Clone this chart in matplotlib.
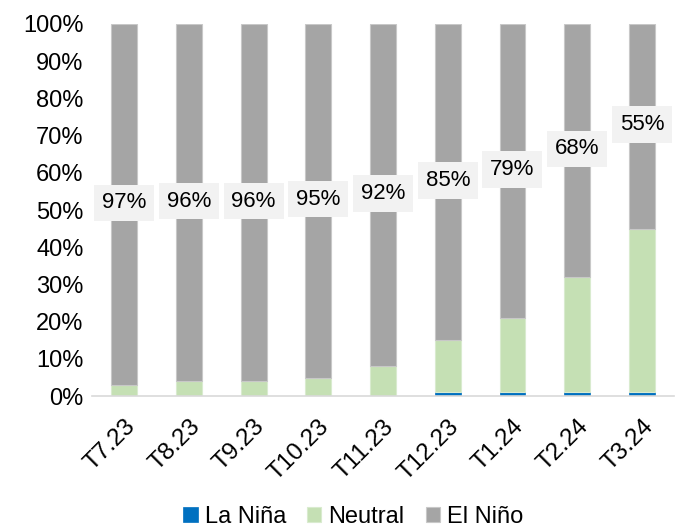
import matplotlib.pyplot as plt
import numpy as np

plt.rcParams['font.family'] = ['Liberation Sans', 'DejaVu Sans']

periods = ['T7.23', 'T8.23', 'T9.23', 'T10.23', 'T11.23', 'T12.23', 'T1.24', 'T2.24', 'T3.24']
la_nina = [0, 0, 0, 0, 0, 1, 1, 1, 1]
neutral = [3, 4, 4, 5, 8, 14, 20, 31, 44]
el_nino = [97, 96, 96, 95, 92, 85, 79, 68, 55]

fig = plt.figure(figsize=(6.81, 5.31), dpi=100)
ax = fig.add_axes([0.135, 0.254, 0.855, 0.701])

x = np.arange(len(periods))
w = 0.4
la = np.array(la_nina)
ne = np.array(neutral)
el = np.array(el_nino)

ax.bar(x, la, w, color='#0070C0', label='La Niña', edgecolor='#0070C0', linewidth=0.5)
ax.bar(x, ne, w, bottom=la, color='#C5E0B4', label='Neutral', edgecolor='#D9EBCF', linewidth=0.8)
ax.bar(x, el, w, bottom=la + ne, color='#A5A5A5', label='El Niño', edgecolor='#C8C8C8', linewidth=0.8)

for i in range(len(periods)):
    ax.text(x[i], la[i] + ne[i] + el[i] / 2 + 0.4, f'{el[i]}%', ha='center', va='center',
            fontsize=16, color='#000000',
            bbox=dict(boxstyle='square,pad=0.35', facecolor='#F2F2F2', edgecolor='none'))

ax.set_ylim(0, 100)
ax.set_xlim(-0.5, len(periods) - 0.5)
ax.set_yticks(range(0, 101, 10))
ax.set_yticklabels([f'{v}%' for v in range(0, 101, 10)], fontsize=17)
ax.set_xticks(x)
ax.set_xticklabels(periods, rotation=45, ha='right', rotation_mode='anchor', fontsize=17.5)
ax.tick_params(axis='both', length=0)
ax.tick_params(axis='y', pad=6)
ax.tick_params(axis='x', pad=14)

for s in ['top', 'right', 'left']:
    ax.spines[s].set_visible(False)
ax.spines['bottom'].set_color('#D9D9D9')
ax.spines['bottom'].set_linewidth(1.2)

fig.legend(loc='center', bbox_to_anchor=(0.519, 0.027), ncol=3, frameon=False,
           fontsize=17, handlelength=0.6, handleheight=0.6, handletextpad=0.3,
           columnspacing=0.9, borderpad=0)

fig.savefig('out.png', dpi=100)
